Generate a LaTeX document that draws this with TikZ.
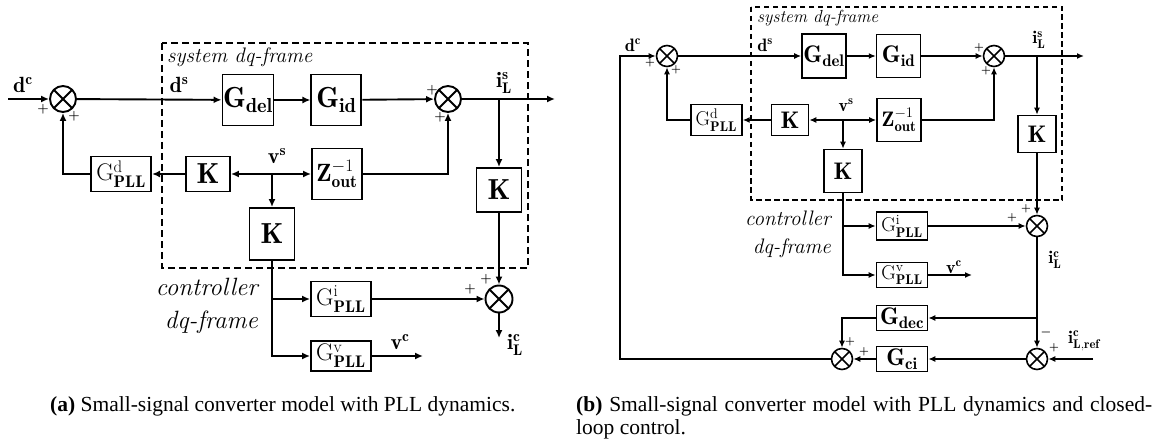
\RequirePackage{fix-cm}
\documentclass[tikz,border=0pt]{standalone}
\usepackage{amsmath}
\usepackage{fontspec}
\newfontfamily\capfont{Liberation Serif}
\usetikzlibrary{positioning,arrows.meta,calc}
\newcommand{\fsz}[1]{\fontsize{#1pt}{#1pt}\selectfont}
\tikzset{
  % left picture (a)
  blkA/.style={rectangle, draw, line width=1.9pt, inner sep=0pt, align=center},
  kA/.style={blkA, font=\fsz{29}},
  gA/.style={blkA, font=\fsz{29}},
  pllA/.style={blkA, font=\fsz{24}, minimum width=60pt},
  sumA/.style={circle, draw, line width=1.9pt, minimum size=26pt, inner sep=0pt,
    path picture={\draw[line width=1.9pt]
      (path picture bounding box.north west) -- (path picture bounding box.south east)
      (path picture bounding box.north east) -- (path picture bounding box.south west);}},
  sigA/.style={-{Latex[length=8pt,width=7pt]}, line width=1.9pt},
  frameA/.style={line width=1.5pt, dash pattern=on 7pt off 4pt},
  lblA/.style={font=\fsz{22}, inner sep=0pt},
  pmA/.style={font=\fsz{13}\boldmath, inner sep=0pt},
  txtA/.style={font=\fsz{21}\itshape, inner sep=0pt},
  ctlA/.style={font=\fontsize{25pt}{33pt}\selectfont\itshape, inner sep=0pt, align=right},
  % right picture (b)
  blkB/.style={rectangle, draw, line width=1.6pt, inner sep=0pt, align=center},
  kB/.style={blkB, font=\fsz{24}},
  gB/.style={blkB, font=\fsz{24}},
  pllB/.style={blkB, font=\fsz{20}, minimum width=51pt},
  sumB/.style={circle, draw, line width=1.6pt, minimum size=21pt, inner sep=0pt,
    path picture={\draw[line width=1.6pt]
      (path picture bounding box.north west) -- (path picture bounding box.south east)
      (path picture bounding box.north east) -- (path picture bounding box.south west);}},
  sigB/.style={-{Latex[length=7pt,width=6pt]}, line width=1.6pt},
  frameB/.style={line width=1.3pt, dash pattern=on 5.5pt off 3.5pt},
  lblB/.style={font=\fsz{18}, inner sep=0pt},
  pmB/.style={font=\fsz{11}\boldmath, inner sep=0pt},
  txtB/.style={font=\fsz{17.5}\itshape, inner sep=0pt},
  ctlB/.style={font=\fontsize{21pt}{28pt}\selectfont\itshape, inner sep=0pt, align=right},
  capt/.style={font={\capfont\fontsize{21.5pt}{23pt}\selectfont}, inner sep=0pt},
}

\begin{document}
\begin{tikzpicture}[x=1pt,y=-1pt]
  \useasboundingbox (0,0) rectangle (1167,441);

  % (a) converter model with PLL
  \draw[frameA] (162,43) rectangle (528,268);
  \node[txtA, anchor=west] (sysA) at (167,57) {system dq-frame};
  \node[ctlA, anchor=east] (ctlA) at (258,306) {controller\\dq-frame};

  \node[sumA] (sA1) at (63,99) {};
  \coordinate (inA) at (8,99);
  \node[gA, minimum width=51pt, minimum height=51pt] (delA) at (248,100) {$\mathbf{G}_{\mathbf{del}}$};
  \node[gA, minimum width=50pt, minimum height=51pt, right=36pt of delA] (idA) {$\mathbf{G}_{\mathbf{id}}$};
  \node[sumA] (sA2) at (448,99) {};
  \coordinate (jA) at (499,99);
  \coordinate (outA) at (555,99);

  \node[kA, minimum width=44pt, minimum height=35pt] (kA1) at (208,174) {$\mathbf{K}$};
  \node[pllA, minimum height=35pt, left=33pt of kA1] (gdA) {$\mathrm{G}^{\mathrm{d}}_{\mathbf{PLL}}$};
  \coordinate (vA) at (272,174);
  \node[blkA, font=\fsz{25}, minimum width=50pt, minimum height=51pt] (zA) at (337,174) {$\mathbf{Z}^{-1}_{\mathbf{out}}$};
  \node[kA, minimum width=45pt, minimum height=52pt] (kA2) at (272,234) {$\mathbf{K}$};
  \node[kA, minimum width=45pt, minimum height=44pt] (kA3) at (499,190) {$\mathbf{K}$};
  \node[sumA, minimum size=27pt] (sA3) at (499,299) {};
  \node[pllA, minimum height=35pt] (giA) at (341,299) {$\mathrm{G}^{\mathrm{i}}_{\mathbf{PLL}}$};
  \node[pllA, minimum height=30pt] (gvA) at (341,356) {$\mathrm{G}^{\mathrm{v}}_{\mathbf{PLL}}$};
  \coordinate (vcA) at (423,356);
  \coordinate (icA) at (499,338);

  \node[lblA] (dcA) at (23,85) {$\mathbf{d}^{\mathbf{c}}$};
  \node[lblA] (dsA) at (179,85) {$\mathbf{d}^{\mathbf{s}}$};
  \node[lblA] (vsA) at (277,156) {$\mathbf{v}^{\mathbf{s}}$};
  \node[lblA] (isA) at (504,83) {$\mathbf{i}^{\mathbf{s}}_{\mathbf{L}}$};
  \node[lblA] (vcAl) at (400,342) {$\mathbf{v}^{\mathbf{c}}$};
  \node[lblA] (icAl) at (515,345) {$\mathbf{i}^{\mathbf{c}}_{\mathbf{L}}$};
  \foreach \p [count=\i] in {(43,109),(74,116),(432,90),(440,117),(486,279),(470,289)}
    \node[pmA] (pA\i) at \p {$+$};

  \draw[sigA] (inA) -- (sA1);
  \draw[sigA] (sA1) -- (delA);
  \draw[sigA] (delA) -- (idA);
  \draw[sigA] (idA) -- (sA2);
  \draw[sigA] (sA2) -- (outA);
  \draw[sigA] (jA) -- (kA3);
  \draw[sigA] (kA3) -- (sA3);
  \draw[sigA] (vA) -- (kA1);
  \draw[sigA] (vA) -- (zA);
  \draw[sigA] (vA) -- (kA2);
  \draw[sigA] (kA1) -- (gdA);
  \draw[sigA] (gdA.west) -| (sA1.south);
  \draw[sigA] (zA.east) -| (sA2.south);
  \draw[sigA] (kA2.south) |- (gvA.west);
  \draw[sigA] (kA2.south |- giA.west) -- (giA.west);
  \draw[sigA] (giA) -- (sA3);
  \draw[sigA] (gvA) -- (vcA);
  \draw[sigA] (sA3) -- (icA);

  % (b) converter model with PLL and current control
  \draw[frameB] (751,7) rectangle (1062,200);
  \node[txtB, anchor=west] (sysB) at (757,18) {system dq-frame};
  \node[ctlB, anchor=east] (ctlB) at (831,234) {controller\\dq-frame};

  \node[sumB] (sB1) at (667,56) {};
  \node[gB, minimum width=44pt, minimum height=44pt] (delB) at (824,56) {$\mathbf{G}_{\mathbf{del}}$};
  \node[gB, minimum width=44pt, minimum height=43pt, right=29pt of delB] (idB) {$\mathbf{G}_{\mathbf{id}}$};
  \node[sumB] (sB2) at (994,56) {};
  \coordinate (jB) at (1037,56);
  \coordinate (outB) at (1084,56);

  \node[kB, minimum width=37pt, minimum height=31pt] (kB1) at (790,120) {$\mathbf{K}$};
  \node[pllB, minimum height=31pt, left=28pt of kB1] (gdB) {$\mathrm{G}^{\mathrm{d}}_{\mathbf{PLL}}$};
  \coordinate (vB) at (843,120);
  \node[blkB, font=\fsz{21}, minimum width=44pt, minimum height=43pt] (zB) at (899,120) {$\mathbf{Z}^{-1}_{\mathbf{out}}$};
  \node[kB, minimum width=38pt, minimum height=43pt] (kB2) at (843,171) {$\mathbf{K}$};
  \node[kB, minimum width=38pt, minimum height=37pt] (kB3) at (1037,134) {$\mathbf{K}$};
  \node[sumB] (sB3) at (1037,226) {};
  \node[pllB, minimum height=28pt] (giB) at (902,226) {$\mathrm{G}^{\mathrm{i}}_{\mathbf{PLL}}$};
  \node[pllB, minimum height=25pt] (gvB) at (902,275) {$\mathrm{G}^{\mathrm{v}}_{\mathbf{PLL}}$};
  \coordinate (vcB) at (972,275);
  \node[gB, minimum width=51pt, minimum height=25pt] (decB) at (902,318) {$\mathbf{G}_{\mathbf{dec}}$};
  \node[gB, minimum width=51pt, minimum height=25pt] (ciB) at (902,359) {$\mathbf{G}_{\mathbf{ci}}$};
  \node[sumB] (sB4) at (1037,359) {};
  \node[sumB] (sB5) at (842,359) {};
  \coordinate (refB) at (1093,359);
  \coordinate (fbB) at (620,359);

  \node[lblB] (dcB) at (633,45) {$\mathbf{d}^{\mathbf{c}}$};
  \node[lblB] (dsB) at (765,45) {$\mathbf{d}^{\mathbf{s}}$};
  \node[lblB] (vsB) at (846,105) {$\mathbf{v}^{\mathbf{s}}$};
  \node[lblB] (isB) at (1039,40) {$\mathbf{i}^{\mathbf{s}}_{\mathbf{L}}$};
  \node[lblB] (vcBl) at (954,267) {$\mathbf{v}^{\mathbf{c}}$};
  \node[lblB] (icBl) at (1055,260) {$\mathbf{i}^{\mathbf{c}}_{\mathbf{L}}$};
  \node[lblB] (refBl) at (1084,341) {$\mathbf{i}^{\mathbf{c}}_{\mathbf{L,ref}}$};
  \foreach \p [count=\i] in {(650,63),(676,70),(979,48),(986,71),(1026,209),(1012,218),(1054,348),(850,342),(864,352)}
    \node[pmB] (pB\i) at \p {$+$};
  \node[font=\fsz{12}\boldmath, inner sep=0pt] (mB) at (1046,332) {$-$};

  \draw[sigB] (sB1) -- (delB);
  \draw[sigB] (delB) -- (idB);
  \draw[sigB] (idB) -- (sB2);
  \draw[sigB] (sB2) -- (outB);
  \draw[sigB] (jB) -- (kB3);
  \draw[sigB] (kB3) -- (sB3);
  \draw[sigB] (vB) -- (kB1);
  \draw[sigB] (vB) -- (zB);
  \draw[sigB] (vB) -- (kB2);
  \draw[sigB] (kB1) -- (gdB);
  \draw[sigB] (gdB.west) -| (sB1.south);
  \draw[sigB] (zB.east) -| (sB2.south);
  \draw[sigB] (kB2.south) |- (gvB.west);
  \draw[sigB] (kB2.south |- giB.west) -- (giB.west);
  \draw[sigB] (giB) -- (sB3);
  \draw[sigB] (gvB) -- (vcB);
  \draw[sigB] (sB3) -- (sB4);
  \draw[sigB] (sB3.south |- decB.east) -- (decB.east);
  \draw[sigB] (decB.west) -| (sB5.north);
  \draw[sigB] (refB) -- (sB4);
  \draw[sigB] (sB4) -- (ciB);
  \draw[sigB] (ciB) -- (sB5);
  \draw[sigB] (sB5) -- (fbB) |- (sB1);

  % captions
  \node[capt, anchor=north west] (capA) at (50,396)
    {\textbf{(a)} Small-signal converter model with PLL dynamics.};
  \node[capt, anchor=north west, text width=576pt, align=justify] (capB) at (576,396)
    {\textbf{(b)} Small-signal converter model with PLL dynamics and closed-\linebreak loop control.};
\end{tikzpicture}
\end{document}
